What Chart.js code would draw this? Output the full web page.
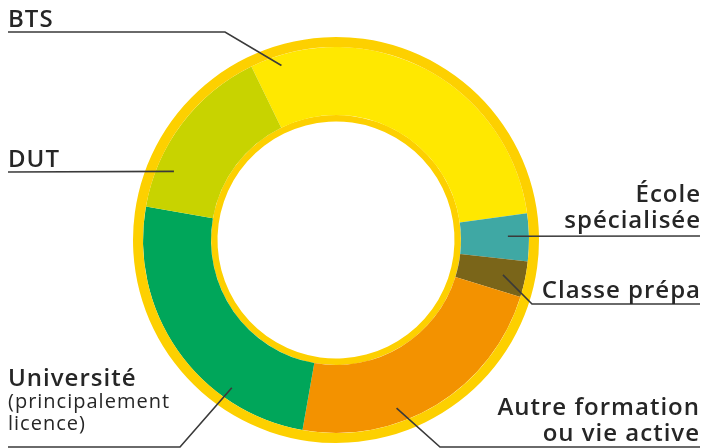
<!DOCTYPE html>
<html>
<head>
<meta charset="utf-8">
<script src="https://cdn.jsdelivr.net/npm/chart.js@4.4.1/dist/chart.umd.min.js"></script>
<style>
  html, body { margin: 0; padding: 0; background: #fff; }
  #wrap { width: 705px; height: 448px; position: relative; }
</style>
</head>
<body>
<div id="wrap"><canvas id="chart"></canvas></div>
<script>
const categories = ['BTS', 'École spécialisée', 'Classe prépa', 'Autre formation ou vie active', 'Université (principalement licence)', 'DUT'];
const shares = [30, 4, 3, 23, 25, 15];
const colors = ['#FFE800', '#3FA8A4', '#7A6519', '#F39200', '#00A65A', '#C8D300'];
const ringData = [100];
const ringColor = '#FDD000';

// label text lines, placement and leader line route (anchor = fraction along arc / through ring)
const labels = [
    {lines: [{t: 'BTS', big: true}], x: 8, y: 27, align: 'left', frac: 0.08, rf: 0.85, route: [[225, 32], [8, 32]]},
    {lines: [{t: 'École', big: true}, {t: 'spécialisée', big: true}], x: 700, y: 202, align: 'right', frac: 0.47, rf: 0.69, route: [[700, 236]]},
    {lines: [{t: 'Classe prépa', big: true}], x: 700, y: 298, align: 'right', frac: 0.5, rf: 0.67, route: [[532, 304], [700, 304]]},
    {lines: [{t: 'Autre formation', big: true}, {t: 'ou vie active', big: true}], x: 699, y: 415, align: 'right', frac: 0.64, rf: 0.79, route: [[440, 447], [700, 447]]},
    {lines: [{t: 'Université', big: true}, {t: '(principalement', big: false}, {t: 'licence)', big: false}], x: 8, y: 386, align: 'left', frac: 0.28, rf: 0.82, route: [[180, 447], [8, 447]]},
    {lines: [{t: 'DUT', big: true}], x: 8, y: 167, align: 'left', frac: 0.24, rf: 0.75, route: [[8, 172]]}
];

const labelPlugin = {
    id: 'leaderLabels',
    afterDraw(chart) {
        const ctx = chart.ctx;
        const meta = chart.getDatasetMeta(1);
        ctx.save();
        labels.forEach((lab, i) => {
            const arc = meta.data[i];
            const a = arc.startAngle + lab.frac * (arc.endAngle - arc.startAngle);
            const r = arc.innerRadius + lab.rf * (arc.outerRadius - arc.innerRadius);
            const ax = arc.x + r * Math.cos(a);
            const ay = arc.y + r * Math.sin(a);
            ctx.strokeStyle = '#3a3a3a';
            ctx.lineWidth = 1.6;
            ctx.beginPath();
            ctx.moveTo(ax, ay);
            lab.route.forEach(p => ctx.lineTo(p[0], p[1]));
            ctx.stroke();

            ctx.fillStyle = '#262626';
            ctx.textAlign = lab.align;
            ctx.textBaseline = 'alphabetic';
            ctx.letterSpacing = '1px';
            let y = lab.y;
            lab.lines.forEach((ln, k) => {
                if (k > 0) y += ln.big ? 26 : 22;
                ctx.font = ln.big ? '600 24px "Open Sans"' : '400 20px "Open Sans"';
                // letter spacing adds a trailing gap; shift right-aligned text to compensate
                ctx.fillText(ln.t, lab.align === 'right' ? lab.x + 1 : lab.x, y);
            });
        });
        ctx.restore();
    }
};

new Chart(document.getElementById('chart'), {
    type: 'doughnut',
    data: {
        labels: categories,
        datasets: [
            {data: ringData, backgroundColor: ringColor, borderWidth: 0, weight: 10},
            {data: shares, backgroundColor: colors, borderWidth: 0, weight: 68},
            {data: ringData, backgroundColor: ringColor, borderWidth: 0, weight: 6.5}
        ]
    },
    options: {
        responsive: true,
        maintainAspectRatio: false,
        animation: false,
        rotation: -26,
        cutout: 118.5,
        layout: {padding: {left: 133, right: 166, top: 37, bottom: 5}},
        plugins: {
            legend: {display: false},
            tooltip: {enabled: false}
        }
    },
    plugins: [labelPlugin]
});
</script>
</body>
</html>
